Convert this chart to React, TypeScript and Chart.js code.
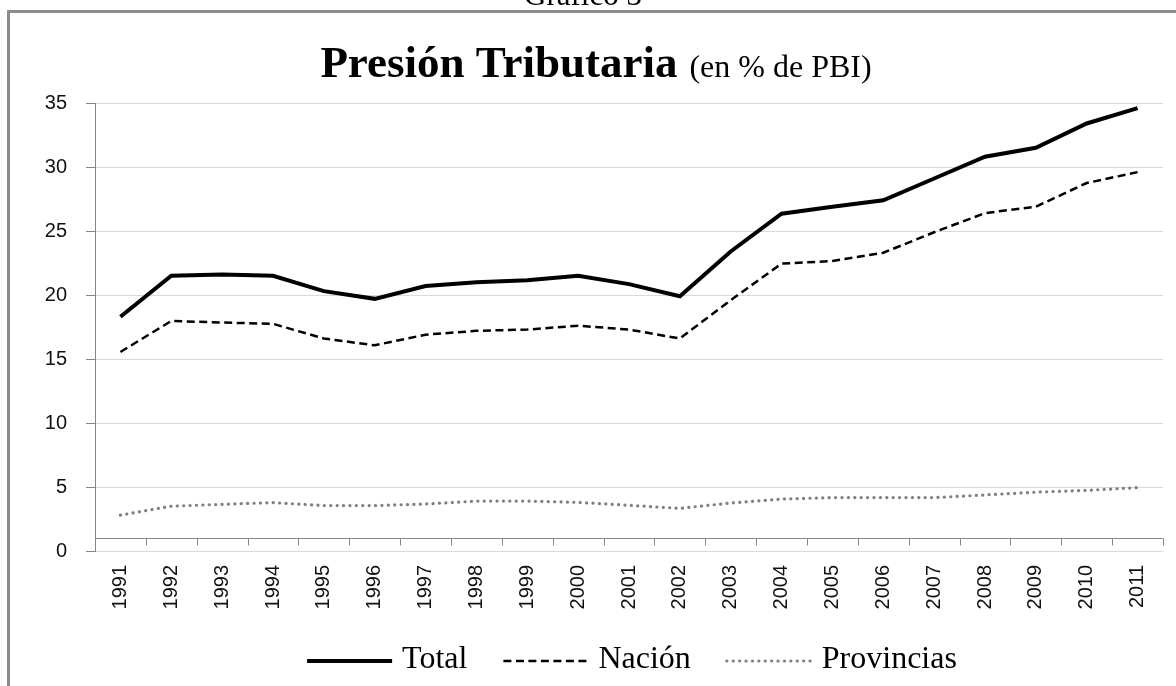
import React, { useEffect, useRef } from 'react';
import { Chart, registerables } from 'chart.js';

Chart.register(...registerables);

const years = ['1991', '1992', '1993', '1994', '1995', '1996', '1997', '1998', '1999', '2000', '2001', '2002', '2003', '2004', '2005', '2006', '2007', '2008', '2009', '2010', '2011'];
const total = [18.3, 21.5, 21.6, 21.5, 20.3, 19.7, 20.7, 21.0, 21.15, 21.5, 20.85, 19.9, 23.4, 26.35, 26.9, 27.4, 29.1, 30.8, 31.5, 33.4, 34.6];
const nacion = [15.55, 17.97, 17.85, 17.75, 16.6, 16.07, 16.9, 17.2, 17.3, 17.6, 17.3, 16.6, 19.6, 22.45, 22.65, 23.3, 24.9, 26.4, 26.9, 28.75, 29.6];
const provincias = [2.8, 3.5, 3.65, 3.78, 3.55, 3.55, 3.67, 3.9, 3.9, 3.8, 3.57, 3.33, 3.75, 4.06, 4.17, 4.17, 4.17, 4.38, 4.6, 4.74, 4.95];
const seriesNames = ['Total', 'Nación', 'Provincias'];
const yMin = 0;
const yMax = 35;
const yStep = 5;
const axisCrossValue = 1;
const captionText = 'Gráfico 3';
const titleMain = 'Presión Tributaria';
const titleSub = '(en % de PBI)';

const decorPlugin = {
  id: 'decor',
  beforeDraw(chart: any) {
    const ctx = chart.ctx;
    ctx.save();
    ctx.fillStyle = '#ffffff';
    ctx.fillRect(0, 0, chart.width, chart.height);
    // frame
    ctx.fillStyle = '#8c8c8c';
    ctx.fillRect(7, 10, 3, chart.height);
    ctx.fillRect(7, 10, chart.width, 3);
    // caption (cut at top)
    ctx.fillStyle = '#000';
    ctx.textBaseline = 'alphabetic';
    ctx.textAlign = 'center';
    ctx.font = '31px "Liberation Serif"';
    ctx.fillText(captionText, 583, 5);
    // title
    ctx.textAlign = 'left';
    ctx.font = 'bold 45px "Liberation Serif"';
    const w1 = ctx.measureText(titleMain).width;
    ctx.font = '32px "Liberation Serif"';
    const w2 = ctx.measureText(titleSub).width;
    const gap = 12;
    const x0 = 596 - (w1 + gap + w2) / 2;
    ctx.font = 'bold 45px "Liberation Serif"';
    ctx.fillText(titleMain, x0, 77);
    ctx.font = '32px "Liberation Serif"';
    ctx.fillText(titleSub, x0 + w1 + gap, 77);
    ctx.restore();
  },
  beforeDatasetsDraw(chart: any) {
    const { ctx, chartArea, scales } = chart;
    const x = scales.x;
    const y = scales.y;
    const yy = Math.round(y.getPixelForValue(axisCrossValue)) + 0.5;
    const step = x.getPixelForValue(1) - x.getPixelForValue(0);
    ctx.save();
    ctx.strokeStyle = '#868686';
    ctx.lineWidth = 1;
    ctx.beginPath();
    ctx.moveTo(chartArea.left, yy);
    ctx.lineTo(chartArea.right, yy);
    for (let i = 1; i <= years.length; i++) {
      const bx = Math.round(x.getPixelForValue(i) - step / 2) + 0.5;
      ctx.moveTo(bx, yy);
      ctx.lineTo(bx, yy + 7);
    }
    ctx.stroke();
    ctx.restore();
  },
  afterDraw(chart: any) {
    // legend with line samples matching each dataset's stroke
    const ctx = chart.ctx;
    const ca = chart.chartArea;
    const lineLen = 85;
    const textGap = 10;
    const spacing = 36;
    ctx.save();
    ctx.font = '32px "Liberation Serif"';
    const items = chart.data.datasets.map((ds: any) => ({
      text: ds.label,
      color: ds.borderColor,
      width: ds.borderWidth,
      dash: ds.borderDash || [],
      cap: ds.borderCapStyle || 'butt',
      tw: ctx.measureText(ds.label).width,
    }));
    const totalW = items.reduce((s: number, it: any) => s + lineLen + textGap + it.tw, 0) + spacing * (items.length - 1);
    let x = (ca.left + ca.right) / 2 + 3 - totalW / 2;
    const ty = 660;
    items.forEach((it: any) => {
      ctx.beginPath();
      ctx.strokeStyle = it.color;
      ctx.lineWidth = it.width;
      ctx.setLineDash(it.dash);
      ctx.lineCap = it.cap;
      ctx.moveTo(x, ty + 1);
      ctx.lineTo(x + lineLen, ty + 1);
      ctx.stroke();
      ctx.setLineDash([]);
      ctx.fillStyle = '#000';
      ctx.textAlign = 'left';
      ctx.textBaseline = 'middle';
      ctx.fillText(it.text, x + lineLen + textGap, ty);
      x += lineLen + textGap + it.tw + spacing;
    });
    ctx.restore();
  },
};

export default function App() {
  const ref = useRef<HTMLCanvasElement | null>(null);
  useEffect(() => {
    if (!ref.current) return;
    const chart = new Chart(ref.current, {
      type: 'line',
      data: {
        labels: years,
        datasets: [
          {
            label: seriesNames[0],
            data: total,
            borderColor: '#000000',
            backgroundColor: '#000000',
            borderWidth: 4,
            pointRadius: 0,
            tension: 0,
            borderCapStyle: 'butt',
          },
          {
            label: seriesNames[1],
            data: nacion,
            borderColor: '#000000',
            backgroundColor: '#000000',
            borderWidth: 2.5,
            borderDash: [8, 4.5],
            pointRadius: 0,
            tension: 0,
          },
          {
            label: seriesNames[2],
            data: provincias,
            borderColor: '#7f7f7f',
            backgroundColor: '#7f7f7f',
            borderWidth: 3.2,
            borderDash: [0.1, 6.3],
            borderCapStyle: 'round',
            pointRadius: 0,
            tension: 0,
          },
        ],
      },
      options: {
        responsive: false,
        animation: false,
        devicePixelRatio: 1,
        layout: { padding: { top: 103, right: 13, left: 0, bottom: 77 } },
        plugins: {
          title: { display: false },
          tooltip: { enabled: false },
          legend: { display: false },
        },
        scales: {
          x: {
            type: 'category',
            offset: true,
            grid: { display: false, drawTicks: false },
            border: { display: false },
            ticks: {
              autoSkip: false,
              minRotation: 90,
              maxRotation: 90,
              padding: 14,
              color: '#111',
              font: { family: '"Liberation Sans"', size: 20 },
            },
            afterFit: (s: any) => {
              s.height = 58;
            },
          },
          y: {
            min: yMin,
            max: yMax,
            ticks: {
              stepSize: yStep,
              padding: 19,
              color: '#111',
              font: { family: '"Liberation Sans"', size: 20 },
            },
            grid: { color: '#d9d9d9', tickColor: '#868686', tickLength: 9, lineWidth: 1 },
            border: { display: true, color: '#868686', width: 1 },
            afterFit: (s: any) => {
              s.width = 95;
            },
          },
        },
      },
      plugins: [decorPlugin],
    } as any);
    return () => chart.destroy();
  }, []);
  return (
    <canvas
      ref={ref}
      width={1176}
      height={686}
      style={{ position: 'fixed', left: 0, top: 0, display: 'block' }}
    />
  );
}
